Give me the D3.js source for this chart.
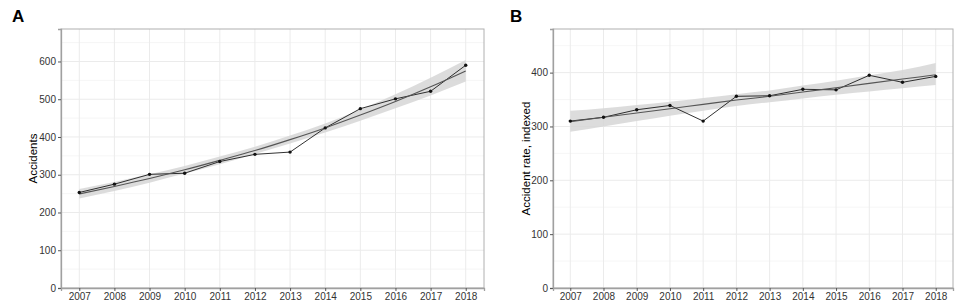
<!DOCTYPE html>
<html>
<head>
<meta charset="utf-8">
<script src="https://cdn.jsdelivr.net/npm/d3@7"></script>
<style>
  body { margin: 0; background: #fff; }
  svg { display: block; font-family: "Liberation Sans", Arial, sans-serif; }
</style>
</head>
<body>
<svg id="chart" width="957" height="301"></svg>
<script>
const years = [2007, 2008, 2009, 2010, 2011, 2012, 2013, 2014, 2015, 2016, 2017, 2018];

// Panel A: accidents
const accidents = [253, 275, 301, 304, 335, 354, 360, 424, 475, 501, 521, 590];
const fitA = [249, 269, 290, 313, 338, 364, 393, 424, 458, 494, 533, 575];
const lowA = [237, 257, 279, 303, 328, 355, 383, 412, 443, 476, 510, 547];
const highA = [262, 281, 301, 323, 348, 374, 404, 436, 473, 513, 557, 604];
const ticksA = [0, 100, 200, 300, 400, 500, 600];

// Panel B: accident rate, indexed
const rate = [310, 317, 331, 339, 310, 356, 357, 369, 368, 395, 382, 393];
const fitB = [309, 317, 325, 333, 341, 349, 356, 364, 372, 380, 388, 396];
const lowB = [290, 300, 310, 320, 329, 338, 345, 352, 359, 365, 371, 377];
const highB = [329, 334, 340, 346, 353, 360, 367, 376, 385, 395, 405, 418];
const ticksB = [0, 100, 200, 300, 400];

const svg = d3.select("#chart");

const drawPanel = (opts) => {
  const { left, right, top, bottom, yMax, ticks, values, fit, low, high, tag, tagX, title, titleX } = opts;

  const x = d3.scaleLinear().domain([2006.48, 2018.52]).range([left, right]);
  const y = d3.scaleLinear().domain([0, yMax]).range([bottom, top]);

  const g = svg.append("g");

  // minor grid
  const minor = d3.range(50, yMax, 100);
  g.selectAll(".minor")
    .data(minor)
    .join("line")
    .attr("x1", left).attr("x2", right)
    .attr("y1", (d) => y(d)).attr("y2", (d) => y(d))
    .attr("stroke", "#f4f4f4").attr("stroke-width", 0.8);

  // major grid
  g.selectAll(".hgrid")
    .data(ticks)
    .join("line")
    .attr("x1", left).attr("x2", right)
    .attr("y1", (d) => y(d)).attr("y2", (d) => y(d))
    .attr("stroke", "#ebebeb").attr("stroke-width", 1);

  g.selectAll(".vgrid")
    .data(years)
    .join("line")
    .attr("x1", (d) => x(d)).attr("x2", (d) => x(d))
    .attr("y1", top).attr("y2", bottom)
    .attr("stroke", "#ebebeb").attr("stroke-width", 1);

  const rows = years.map((yr, i) => ({ yr, v: values[i], f: fit[i], lo: low[i], hi: high[i] }));

  // confidence band
  g.append("path")
    .datum(rows)
    .attr("d", d3.area().x((d) => x(d.yr)).y0((d) => y(d.lo)).y1((d) => y(d.hi)).curve(d3.curveMonotoneX))
    .attr("fill", "#d6d6d6")
    .attr("opacity", 0.85);

  // observed line
  g.append("path")
    .datum(rows)
    .attr("d", d3.line().x((d) => x(d.yr)).y((d) => y(d.v)))
    .attr("fill", "none")
    .attr("stroke", "#1a1a1a")
    .attr("stroke-width", 0.9);

  // fitted line
  g.append("path")
    .datum(rows)
    .attr("d", d3.line().x((d) => x(d.yr)).y((d) => y(d.f)).curve(d3.curveMonotoneX))
    .attr("fill", "none")
    .attr("stroke", "#555555")
    .attr("stroke-width", 1.1);

  g.selectAll(".pt")
    .data(rows)
    .join("circle")
    .attr("cx", (d) => x(d.yr))
    .attr("cy", (d) => y(d.v))
    .attr("r", 1.7)
    .attr("fill", "#111");

  // border
  g.append("rect")
    .attr("x", left).attr("y", top)
    .attr("width", right - left).attr("height", bottom - top)
    .attr("fill", "none")
    .attr("stroke", "#b0b0b0")
    .attr("stroke-width", 1);

  // axes
  const yAxis = g.append("g")
    .attr("transform", `translate(${left},0)`)
    .call(d3.axisLeft(y).tickValues(ticks).tickSize(3).tickPadding(2));
  const xAxis = g.append("g")
    .attr("transform", `translate(0,${bottom})`)
    .call(d3.axisBottom(x).tickValues(years).tickFormat(d3.format("d")).tickSize(3).tickPadding(2));

  [yAxis, xAxis].forEach((a) => {
    a.select(".domain").attr("stroke", "#a0a0a0").attr("stroke-width", 1.3);
    a.selectAll(".tick line").attr("stroke", "#555");
    a.selectAll("text").attr("fill", "#333").style("font-size", "10px");
  });

  svg.append("text")
    .attr("x", tagX).attr("y", 22)
    .attr("font-size", "17px")
    .attr("font-weight", "bold")
    .text(tag);

  svg.append("text")
    .attr("transform", `translate(${titleX},${(top + bottom) / 2}) rotate(-90)`)
    .attr("text-anchor", "middle")
    .attr("font-size", "11.5px")
    .attr("fill", "#000")
    .text(title);
};

drawPanel({
  left: 61, right: 484, top: 29, bottom: 288, yMax: 686,
  ticks: ticksA, values: accidents, fit: fitA, low: lowA, high: highA,
  tag: "A", tagX: 12, title: "Accidents", titleX: 37,
});

drawPanel({
  left: 553, right: 953, top: 29, bottom: 288, yMax: 481,
  ticks: ticksB, values: rate, fit: fitB, low: lowB, high: highB,
  tag: "B", tagX: 510, title: "Accident rate, indexed", titleX: 530,
});
</script>
</body>
</html>
